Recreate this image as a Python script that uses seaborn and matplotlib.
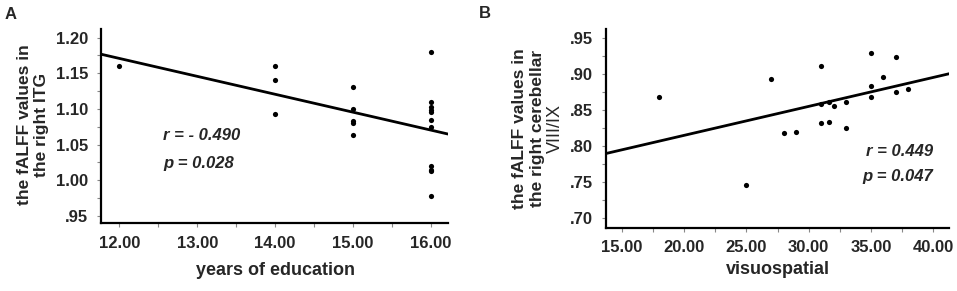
import numpy as np
import pandas as pd
import matplotlib
matplotlib.use("Agg")
import matplotlib.pyplot as plt
import seaborn as sns

# panel A: years of education vs fALFF in right ITG
edu_years = [12, 14, 14, 14, 15, 15, 15, 15, 15,
             16, 16, 16, 16, 16, 16, 16, 16, 16, 16, 16]
itg_falff = [1.160, 1.160, 1.140, 1.093, 1.131, 1.100, 1.083, 1.080, 1.063,
             1.180, 1.109, 1.103, 1.099, 1.096, 1.085, 1.074, 1.020, 1.015, 1.013, 0.978]

# panel B: visuospatial vs fALFF in right cerebellar VIII/IX
visuo = [18, 25, 27, 28, 29, 31, 31, 31, 31.65, 31.65,
         32, 33, 33, 35, 35, 35, 36, 37, 37, 38]
cereb_falff = [0.869, 0.747, 0.894, 0.818, 0.820, 0.912, 0.859, 0.832, 0.861, 0.834,
               0.856, 0.862, 0.825, 0.930, 0.884, 0.869, 0.897, 0.924, 0.875, 0.880]

a_yticks = [0.95, 1.00, 1.05, 1.10, 1.15, 1.20]
a_ylabels = [".95", "1.00", "1.05", "1.10", "1.15", "1.20"]
a_xticks = [12, 13, 14, 15, 16]
a_xlabels = ["12.00", "13.00", "14.00", "15.00", "16.00"]
b_yticks = [0.70, 0.75, 0.80, 0.85, 0.90, 0.95]
b_ylabels = [".70", ".75", ".80", ".85", ".90", ".95"]
b_xticks = [15, 20, 25, 30, 35, 40]
b_xlabels = ["15.00", "20.00", "25.00", "30.00", "35.00", "40.00"]

df_a = pd.DataFrame({"edu": edu_years, "falff": itg_falff})
df_b = pd.DataFrame({"visuo": visuo, "falff": cereb_falff})

sns.set_style("ticks")
plt.rcParams["font.family"] = ["Liberation Sans", "DejaVu Sans"]

fig = plt.figure(figsize=(9.57, 2.91), dpi=100)
W, H = 957, 291
ax1 = fig.add_axes([101 / W, 1 - 223 / H, 347 / W, 194 / H])
ax2 = fig.add_axes([605.7 / W, 1 - 227.7 / H, 343.6 / W, 198.7 / H])

dot_style = {"s": 14, "color": "black", "linewidths": 0, "alpha": 1}
fit_style = {"color": "black", "linewidth": 2.0}


def style_axis(ax, xt, xl, yt, yl, xminor, yminor):
    sns.despine(ax=ax)
    for s in ["left", "bottom"]:
        ax.spines[s].set_linewidth(1.6)
        ax.spines[s].set_color("black")
    ax.set_xticks(xt)
    ax.set_xticklabels(xl)
    ax.set_yticks(yt)
    ax.set_yticklabels(yl)
    ax.set_xticks(xminor, minor=True)
    ax.set_yticks(yminor, minor=True)
    ax.tick_params(which="both", length=3, width=0.8, color="#888888",
                   labelsize=12, pad=6)
    for lab in ax.get_xticklabels() + ax.get_yticklabels():
        lab.set_fontweight("bold")


# ---- panel A
ax1.set_xlim(11.765, 16.22)
ax1.set_ylim(0.940, 1.212)
sns.regplot(data=df_a, x="edu", y="falff", ax=ax1, ci=None, truncate=False,
            scatter_kws=dot_style, line_kws=fit_style)
ax1.set_xlim(11.765, 16.22)
ax1.set_ylim(0.940, 1.212)
style_axis(ax1, a_xticks, a_xlabels, a_yticks, a_ylabels,
           np.arange(12.5, 16.1, 1.0), np.arange(0.975, 1.21, 0.05))
ax1.set_xlabel("years of education", fontsize=13, fontweight="bold")
ax1.xaxis.set_label_coords(0.503, -0.20)
ax1.set_ylabel("the fALFF values in\nthe right ITG", fontsize=12.5, fontweight="bold",
               linespacing=1.2)
ax1.yaxis.set_label_coords(-0.149, 0.505)
ax1.text(0.18, 0.4536, "r = - 0.490", transform=ax1.transAxes, fontsize=12,
         fontweight="bold", fontstyle="italic", va="center", ha="left")
ax1.text(0.18, 0.309, "p = 0.028", transform=ax1.transAxes, fontsize=12,
         fontweight="bold", fontstyle="italic", va="center", ha="left")

# ---- panel B
ax2.set_xlim(13.72, 41.28)
ax2.set_ylim(0.687, 0.963)
sns.regplot(data=df_b, x="visuo", y="falff", ax=ax2, ci=None, truncate=False,
            scatter_kws=dot_style, line_kws=fit_style)
ax2.set_xlim(13.72, 41.28)
ax2.set_ylim(0.687, 0.963)
style_axis(ax2, b_xticks, b_xlabels, b_yticks, b_ylabels,
           np.arange(17.5, 41, 5.0), np.arange(0.725, 0.96, 0.05))
ax2.set_xlabel("visuospatial", fontsize=13, fontweight="bold")
ax2.xaxis.set_label_coords(0.501, -0.17)
ax2.set_ylabel("the fALFF values in\nthe right cerebellar", fontsize=12.5,
               fontweight="bold", linespacing=1.2)
ax2.yaxis.set_label_coords(-0.177, 0.5)
ax2.text(-0.1476, 0.497, "VIII/IX", transform=ax2.transAxes, fontsize=13,
         rotation=90, ha="center", va="center")
ax2.text(0.953, 0.3825, "r = 0.449", transform=ax2.transAxes, fontsize=12,
         fontweight="bold", fontstyle="italic", va="center", ha="right")
ax2.text(0.953, 0.257, "p = 0.047", transform=ax2.transAxes, fontsize=12,
         fontweight="bold", fontstyle="italic", va="center", ha="right")

# panel letters
fig.text(5 / W, 1 - 14.5 / H, "A", fontsize=12, fontweight="bold", va="center")
fig.text(479 / W, 1 - 13 / H, "B", fontsize=12, fontweight="bold", va="center")

fig.savefig("out.png", dpi=100)
